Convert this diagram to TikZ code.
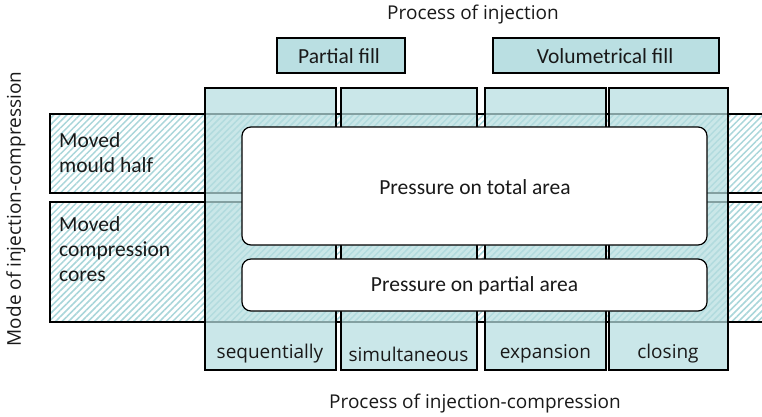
\documentclass[tikz,border=0pt]{standalone}
\usepackage{fontspec}
\setmainfont{Carlito}
\newfontfamily\titlefont{Open Sans}
\usetikzlibrary{patterns.meta}
\definecolor{hatch}{HTML}{A9D6DA}
\definecolor{colfill}{RGB}{182,222,224}
\definecolor{headfill}{HTML}{BADFE2}

\begin{document}
\begin{tikzpicture}[x=1pt,y=-1pt,
  font=\fontsize{21.5}{25}\selectfont,
  box/.style={draw=black, line width=1.2pt, inner sep=0pt, outer sep=0pt},
  rowband/.style={box, preaction={fill=white},
    pattern={Lines[angle=45,distance=4.6pt,line width=1.5pt]}, pattern color=hatch},
  colband/.style={box, fill=colfill, fill opacity=0.72},
  header/.style={box, fill=headfill},
  panel/.style={box, fill=white, rounded corners=9pt},
  lbl/.style={inner sep=0pt, text=black!90},
  axistitle/.style={lbl, font=\titlefont\fontsize{19}{22}\selectfont}]

\useasboundingbox (0,0) rectangle (762,416);
\clip (0,0) rectangle (762,416);

% hatched mode bands
\node[rowband, minimum width=725pt, minimum height=79pt] (r1) at (412.5,153.5) {};
\node[rowband, minimum width=725pt, minimum height=120pt] (r2) at (412.5,262) {};

% process columns
\node[colband, minimum width=131pt, minimum height=282pt] (c1) at (270.5,229) {};
\node[colband, minimum width=136pt, minimum height=282pt] (c2) at (409,229) {};
\node[colband, minimum width=121pt, minimum height=282pt] (c3) at (545.5,229) {};
\node[colband, minimum width=119pt, minimum height=282pt] (c4) at (668.5,229) {};

% injection headers
\node[header, minimum width=128pt, minimum height=35pt] (h1) at (341,55.5) {};
\node[header, minimum width=226pt, minimum height=35pt] (h2) at (606,55.5) {};
\node[lbl] (h1t) at (339,56) {Partial fill};
\node[lbl] (h2t) at (605,56) {Volumetrical fill};

% pressure panels
\node[panel, minimum width=465pt, minimum height=118pt] (p1) at (474.5,186) {};
\node[panel, minimum width=465pt, minimum height=52pt] (p2) at (474.5,285) {};
\node[lbl] (p1t) at (475,187) {Pressure on total area};
\node[lbl] (p2t) at (474.5,286) {Pressure on partial area};

% row labels
\node[lbl, anchor=west, align=left] (r1t) at (59,153) {Moved\\mould half};
\node[lbl, anchor=west, align=left] (r2t) at (59,249) {Moved\\compression\\cores};

% column labels
\node[axistitle] (c1t) at (270,354) {sequentially};
\node[axistitle] (c2t) at (408.5,354) {simultaneous};
\node[axistitle] (c3t) at (545.5,354) {expansion};
\node[axistitle] (c4t) at (668,354) {closing};

% axis titles
\node[axistitle] (top) at (473,15) {Process of injection};
\node[axistitle] (bottom) at (475,404) {Process of injection-compression};
\node[axistitle, rotate=90] (left) at (16,209) {Mode of injection-compression};
\end{tikzpicture}
\end{document}
